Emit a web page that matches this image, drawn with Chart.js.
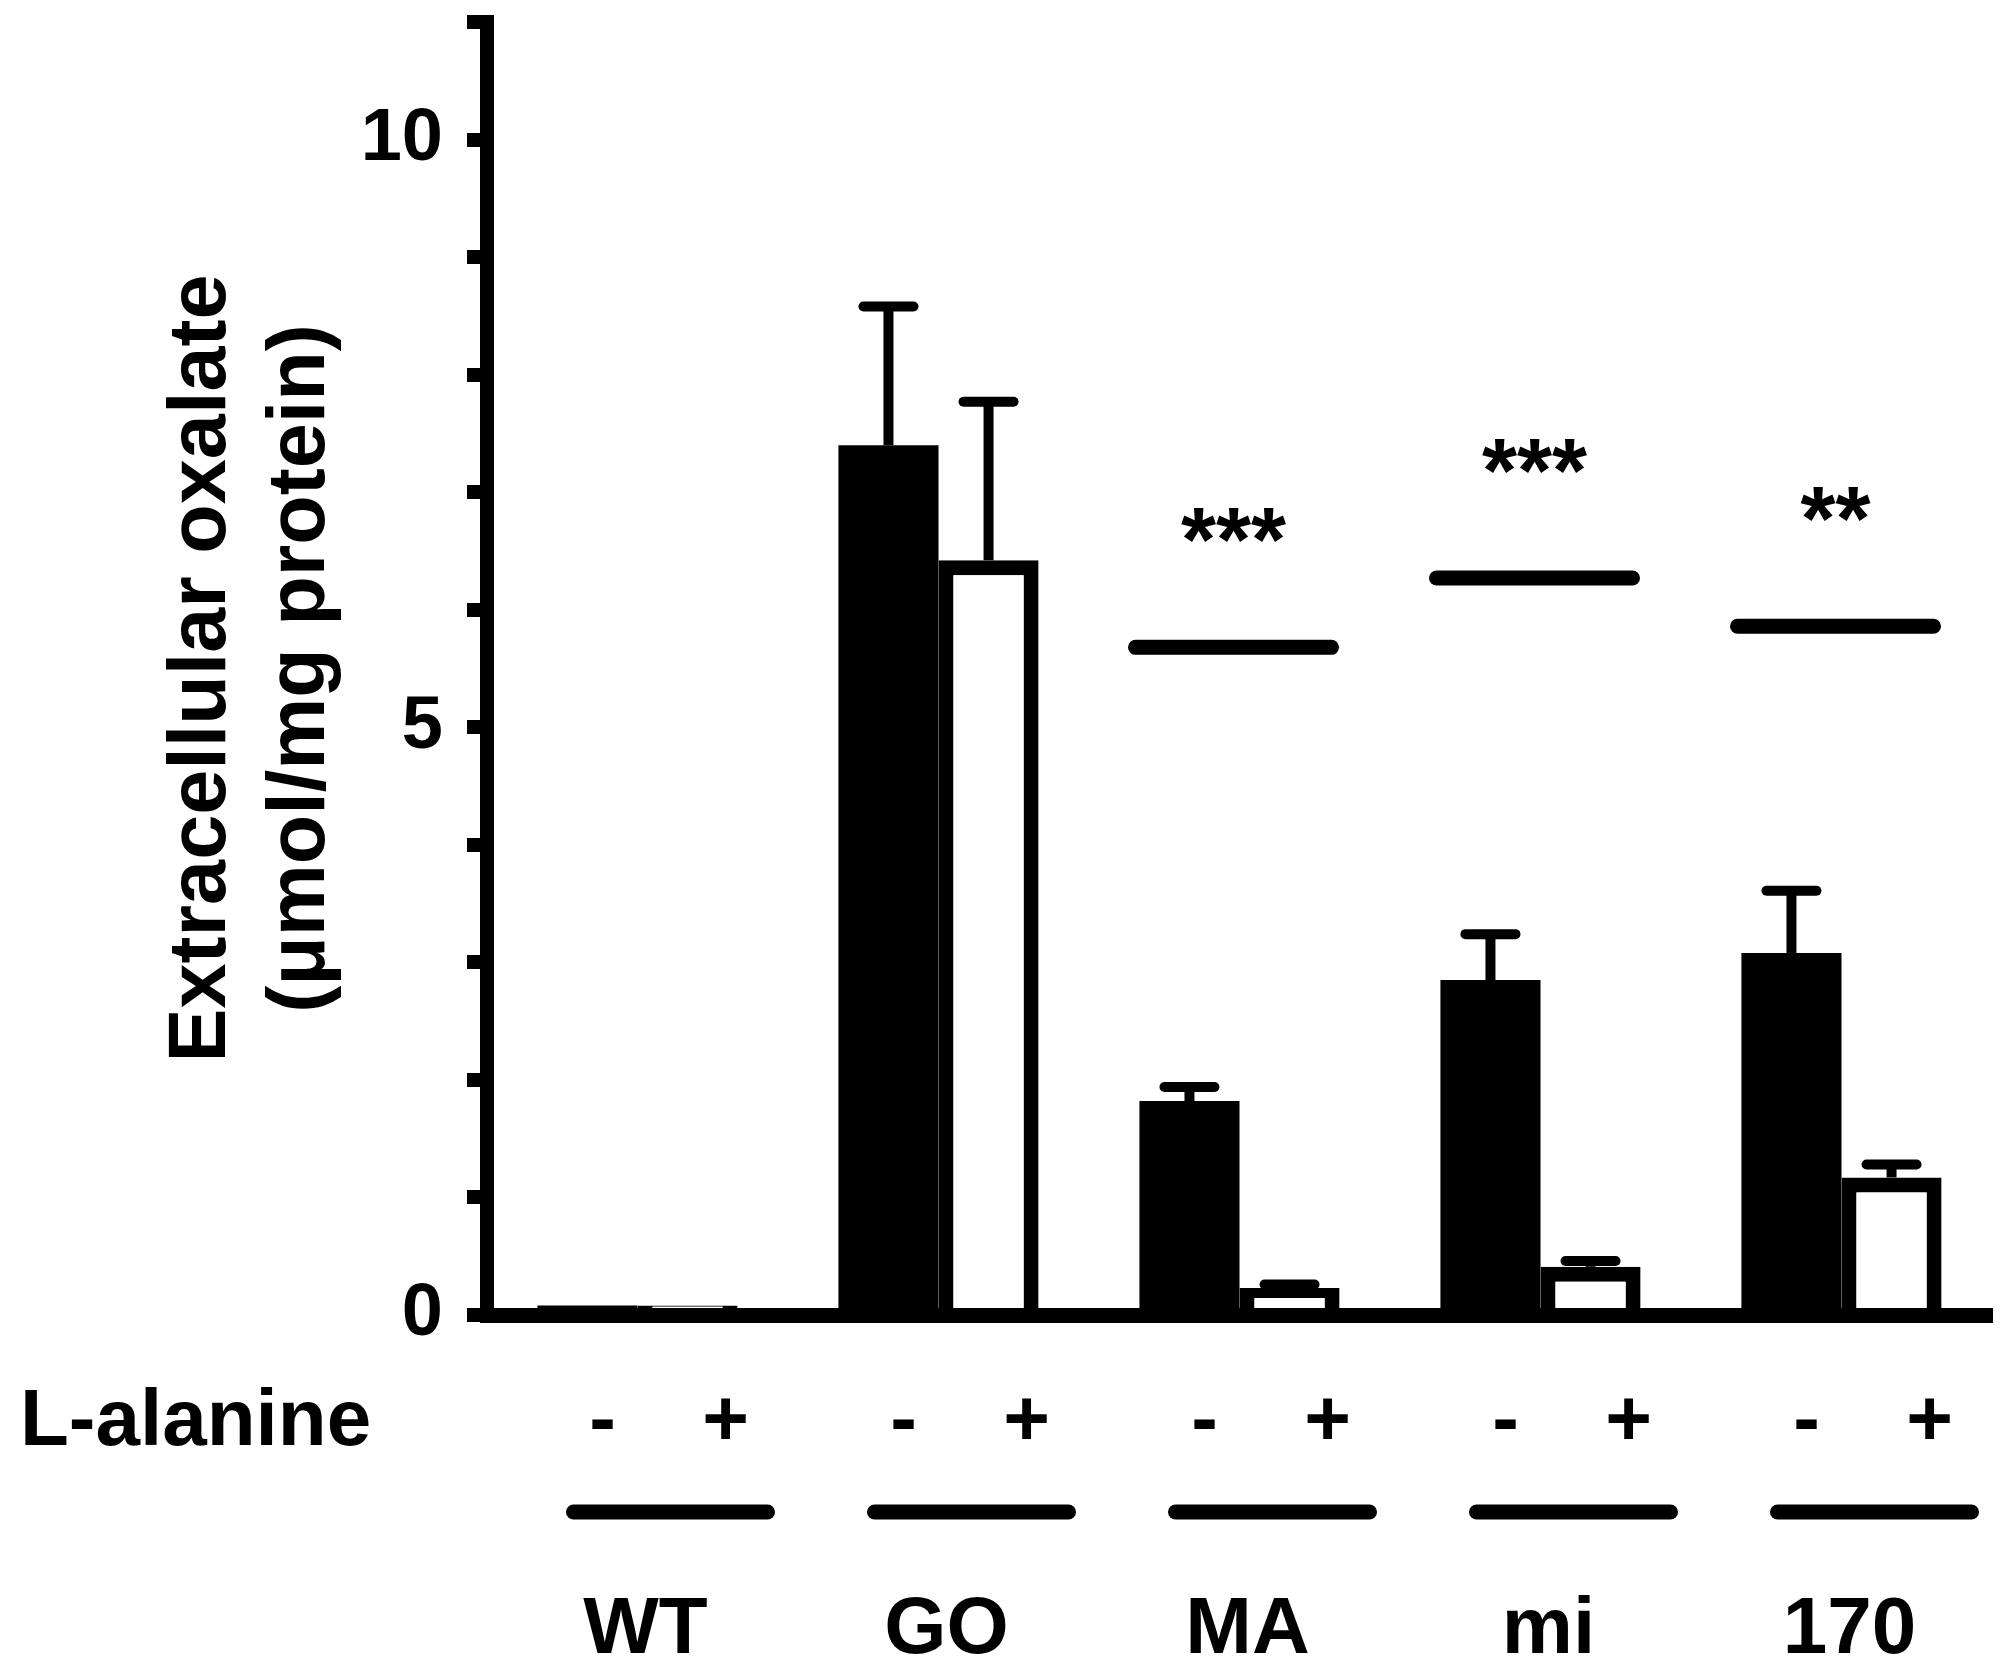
<!DOCTYPE html>
<html>
<head>
<meta charset="utf-8">
<script src="https://cdn.jsdelivr.net/npm/chart.js@4.4.1/dist/chart.umd.min.js"></script>
<style>
  html, body { margin: 0; padding: 0; background: #fff; }
  #chart { display: block; }
</style>
</head>
<body>
<canvas id="chart" width="2010" height="1669"></canvas>
<script>
// ===============================
// Data
// ===============================
const groups = ["WT", "GO", "MA", "mi", "170"];
const alanine = ["-", "+"];

const withoutAlanine = [0.08, 7.40, 1.82, 2.85, 3.08];
const withoutAlanineSem = [0, 1.18, 0.12, 0.39, 0.53];
const withAlanine = [0.08, 6.42, 0.23, 0.41, 1.17];
const withAlanineSem = [0, 1.35, 0.03, 0.05, 0.11];

const yTickLabels = [0, 5, 10];

const sigGroups = ["MA", "mi", "170"];
const sigLevels = [5.68, 6.27, 5.86];
const sigMarks = ["***", "***", "**"];

// ===============================
// Fonts
// ===============================
const FAMILY = "'Liberation Sans', Arial, Helvetica, sans-serif";
const LABEL_FONT = "bold 80px " + FAMILY;
const STAR_FONT = "bold 90px " + FAMILY;

// ===============================
// Error bars, significance, x labels
// ===============================
const annotations = {
  id: "annotations",
  afterDatasetsDraw(chart) {
    const ctx = chart.ctx;
    const x = chart.scales.x;
    const y = chart.scales.y;
    const sems = [withoutAlanineSem, withAlanineSem];

    ctx.save();
    ctx.strokeStyle = "#000";
    ctx.fillStyle = "#000";

    // upper error bars
    chart.data.datasets.forEach((ds, i) => {
      chart.getDatasetMeta(i).data.forEach((bar, j) => {
        const sem = sems[i][j];
        if (!sem) return;
        const top = y.getPixelForValue(ds.data[j] + sem);
        ctx.lineWidth = 10;
        ctx.lineCap = "butt";
        ctx.beginPath();
        ctx.moveTo(bar.x, bar.y);
        ctx.lineTo(bar.x, top);
        ctx.stroke();
        ctx.lineCap = "round";
        ctx.beginPath();
        ctx.moveTo(bar.x - 25, top);
        ctx.lineTo(bar.x + 25, top);
        ctx.stroke();
      });
    });

    // significance lines + stars
    sigGroups.forEach((g, k) => {
      const cx = x.getPixelForValue(groups.indexOf(g)) - 6;
      const ly = y.getPixelForValue(sigLevels[k]);
      ctx.lineWidth = 15;
      ctx.lineCap = "round";
      ctx.beginPath();
      ctx.moveTo(cx - 98, ly);
      ctx.lineTo(cx + 98, ly);
      ctx.stroke();
      ctx.font = STAR_FONT;
      ctx.textAlign = "center";
      ctx.textBaseline = "alphabetic";
      ctx.fillText(sigMarks[k], cx, ly - 76);
    });

    // L-alanine row
    ctx.font = LABEL_FONT;
    ctx.textBaseline = "alphabetic";
    ctx.textAlign = "left";
    ctx.fillText("L-alanine", 20, 1445);

    ctx.textAlign = "center";
    chart.data.datasets.forEach((ds, i) => {
      chart.getDatasetMeta(i).data.forEach(bar => {
        ctx.fillText(alanine[i], bar.x + (i === 0 ? 15 : 38), 1445);
      });
    });

    // group underlines and names
    groups.forEach((g, j) => {
      const cx = x.getPixelForValue(j);
      ctx.lineWidth = 15;
      ctx.lineCap = "round";
      ctx.beginPath();
      ctx.moveTo(cx + 33 - 97, 1512);
      ctx.lineTo(cx + 33 + 97, 1512);
      ctx.stroke();
      ctx.fillText(g, cx + 8, 1653);
    });

    ctx.restore();
  }
};

// ===============================
// Chart
// ===============================
new Chart(document.getElementById("chart"), {
  type: "bar",
  data: {
    labels: groups,
    datasets: [
      {
        label: alanine[0],
        data: withoutAlanine,
        backgroundColor: "#000",
        borderWidth: 0
      },
      {
        label: alanine[1],
        data: withAlanine,
        backgroundColor: "#fff",
        borderColor: "#000",
        borderWidth: 15
      }
    ]
  },
  options: {
    responsive: false,
    devicePixelRatio: 1,
    animation: false,
    layout: { padding: { top: 22, right: 18, left: 0, bottom: 0 } },
    datasets: { bar: { categoryPercentage: 0.665, barPercentage: 1.0 } },
    plugins: {
      legend: { display: false },
      tooltip: { enabled: false }
    },
    scales: {
      x: {
        z: 1,
        grid: { display: false, drawTicks: false },
        border: { display: true, color: "#000", width: 15 },
        ticks: { display: false },
        afterFit(scale) {
          scale.height = 354;
          scale.paddingLeft = 0;
          scale.paddingRight = 0;
        }
      },
      y: {
        z: 1,
        min: 0,
        max: 11,
        ticks: {
          stepSize: 1,
          padding: 24,
          color: "#000",
          font: { family: FAMILY, size: 74, weight: "bold" },
          callback: v => (yTickLabels.includes(v) ? String(v) : "")
        },
        grid: {
          drawOnChartArea: false,
          drawTicks: true,
          tickLength: 20,
          lineWidth: 14,
          color: "#000"
        },
        border: { display: true, color: "#000", width: 14 },
        title: {
          display: true,
          text: ["Extracellular oxalate", "(\u03bcmol/mg protein)"],
          color: "#000",
          font: { family: FAMILY, size: 81, weight: "bold", lineHeight: 1.22 },
          padding: { top: 153, bottom: 0 }
        },
        afterFit(scale) {
          scale.width = 487;
          scale.paddingTop = 0;
          scale.paddingBottom = 0;
        }
      }
    }
  },
  plugins: [annotations]
});
</script>
</body>
</html>
